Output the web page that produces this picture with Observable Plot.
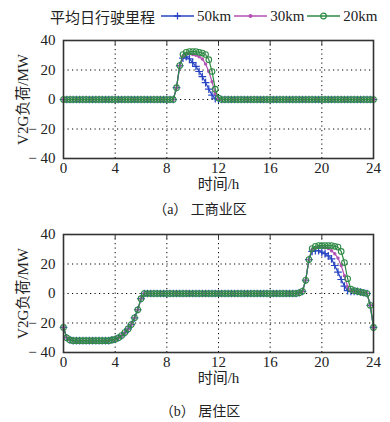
<!DOCTYPE html>
<html><head><meta charset="utf-8">
<script src="https://cdn.jsdelivr.net/npm/d3@7"></script>
<script src="https://cdn.jsdelivr.net/npm/@observablehq/plot@0.6"></script>
<style>
body{margin:0;background:#fff;}
#wrap{position:relative;width:390px;height:422px;overflow:hidden;font-family:"Liberation Serif","Noto Sans CJK SC",serif;color:#222;}
.abs{position:absolute;}
.cap{position:absolute;left:0;width:400px;text-align:center;font-size:14px;}
#legend{position:absolute;left:50px;top:4px;height:24px;display:flex;align-items:center;font-size:15px;white-space:nowrap;}
#legend .ttl{font-family:"Noto Sans CJK SC",sans-serif;margin-right:6px;}
#legend svg{display:block;}
svg text{font-family:"Liberation Serif","Noto Sans CJK SC",serif;}
</style></head><body>
<div id="wrap">
  <div id="legend"></div>
  <div id="p1" class="abs" style="left:0;top:28px"></div>
  <div class="cap" style="top:198px">（a） 工商业区</div>
  <div id="p2" class="abs" style="left:0;top:222px"></div>
  <div class="cap" style="top:400px">（b） 居住区</div>
</div>
<script>
const hours = [0,0.25,0.5,0.75,1,1.25,1.5,1.75,2,2.25,2.5,2.75,3,3.25,3.5,3.75,4,4.25,4.5,4.75,5,5.25,5.5,5.75,6,6.25,6.5,6.75,7,7.25,7.5,7.75,8,8.25,8.5,8.75,9,9.25,9.5,9.75,10,10.25,10.5,10.75,11,11.25,11.5,11.75,12,12.25,12.5,12.75,13,13.25,13.5,13.75,14,14.25,14.5,14.75,15,15.25,15.5,15.75,16,16.25,16.5,16.75,17,17.25,17.5,17.75,18,18.25,18.5,18.75,19,19.25,19.5,19.75,20,20.25,20.5,20.75,21,21.25,21.5,21.75,22,22.25,22.5,22.75,23,23.25,23.5,23.75,24];
const seriesNames = ["50km","30km","20km"];
const seriesColors = ["#2a45c4","#b352b3","#2f8a45"];
const xTicks = [0,4,8,12,16,20,24];
const yTicks = [-40,-20,0,20,40];

// 工商业区 (commercial)
const com50 = [0,0,0,0,0,0,0,0,0,0,0,0,0,0,0,0,0,0,0,0,0,0,0,0,0,0,0,0,0,0,0,0,0,0,0,8,23,28,29,27.5,25,22.5,19,15.5,11.5,7,3,0.5,0,0,0,0,0,0,0,0,0,0,0,0,0,0,0,0,0,0,0,0,0,0,0,0,0,0,0,0,0,0,0,0,0,0,0,0,0,0,0,0,0,0,0,0,0,0,0,0,0];
const com30 = [0,0,0,0,0,0,0,0,0,0,0,0,0,0,0,0,0,0,0,0,0,0,0,0,0,0,0,0,0,0,0,0,0,0,0,8,23,29.5,31,31,30.5,30,29,27.5,24,19,12,4,0.5,0,0,0,0,0,0,0,0,0,0,0,0,0,0,0,0,0,0,0,0,0,0,0,0,0,0,0,0,0,0,0,0,0,0,0,0,0,0,0,0,0,0,0,0,0,0,0,0];
const com20 = [0,0,0,0,0,0,0,0,0,0,0,0,0,0,0,0,0,0,0,0,0,0,0,0,0,0,0,0,0,0,0,0,0,0,0,8,23,30.5,32,32.5,32.5,32.5,32,31.5,30.5,27,19,7,1,0,0,0,0,0,0,0,0,0,0,0,0,0,0,0,0,0,0,0,0,0,0,0,0,0,0,0,0,0,0,0,0,0,0,0,0,0,0,0,0,0,0,0,0,0,0,0,0];

// 居住区 (residential)
const res50 = [-23,-30,-31.5,-32,-32,-32,-32,-32,-32,-32,-32,-32,-32,-32,-32,-31.5,-31,-30,-28.5,-26.5,-24,-21,-16.5,-11,-3.5,0,0,0,0,0,0,0,0,0,0,0,0,0,0,0,0,0,0,0,0,0,0,0,0,0,0,0,0,0,0,0,0,0,0,0,0,0,0,0,0,0,0,0,0,0,0,0,0,0.5,1.5,9,23,28.5,29,29,28,27,25.5,23.5,19,14.5,9.5,5,2,1.5,1.5,1.5,1,0.5,0,-8,-23];
const res30 = [-23,-30,-31.5,-32,-32,-32,-32,-32,-32,-32,-32,-32,-32,-32,-32,-31.5,-31,-30,-28.5,-26.5,-24,-21,-16.5,-11,-3.5,0,0,0,0,0,0,0,0,0,0,0,0,0,0,0,0,0,0,0,0,0,0,0,0,0,0,0,0,0,0,0,0,0,0,0,0,0,0,0,0,0,0,0,0,0,0,0,0,0.5,1.5,9,23,30,31,31.5,31.5,31,30.5,29,27,24,19,12,4.5,2,1.5,1.5,1,0.5,0,-8,-23];
const res20 = [-23,-30,-31.5,-32,-32,-32,-32,-32,-32,-32,-32,-32,-32,-32,-32,-31.5,-31,-30,-28.5,-26.5,-24,-21,-16.5,-11,-3.5,0,0,0,0,0,0,0,0,0,0,0,0,0,0,0,0,0,0,0,0,0,0,0,0,0,0,0,0,0,0,0,0,0,0,0,0,0,0,0,0,0,0,0,0,0,0,0,0,0.5,1.5,9,23,30.5,32,32.5,32.5,32.5,32.5,32.5,32,31.5,28.5,21,10,3,2,1.5,1,0.5,0,-8,-23];

function rows(arr){ return hours.map((t,i)=>({t, v: arr[i]})); }

const fmtY = d => d < 0 ? "\u2212 " + (-d) : String(d);
const FF = '"Liberation Serif","Noto Sans CJK SC",serif';

function panel(sets){
  const [a,b,c] = sets.map(rows);
  return Plot.plot({
    width: 390, height: 166,
    marginTop: 12, marginBottom: 36, marginLeft: 63, marginRight: 17,
    style: {fontFamily: FF, fontSize: "15px", color: "#222", background: "transparent", overflow: "visible"},
    x: {domain: [0,24]},
    y: {domain: [-40,40]},
    marks: [
      Plot.gridX(xTicks.slice(1,-1), {stroke:"#000", strokeOpacity:1, strokeDasharray:"1.2,3.3", strokeWidth:1}),
      Plot.gridY(yTicks.slice(1,-1), {stroke:"#000", strokeOpacity:1, strokeDasharray:"1.2,3.3", strokeWidth:1}),
      Plot.axisX(xTicks, {tickSize:0, tickPadding:4, label:"时间/h", labelAnchor:"center", labelArrow:"none", labelOffset:30, fontSize:15, fontFamily: FF}),
      Plot.axisY(yTicks, {tickSize:0, tickPadding:8, tickFormat: fmtY, label:"V2G负荷/MW", labelAnchor:"center", labelArrow:"none", labelOffset:46, fontSize:15, fontFamily: FF}),
      Plot.axisX(xTicks.slice(1,-1), {anchor:"top", tickSize:-4, tickFormat: () => "", label: null, stroke:"#333"}),
      Plot.line(a, {x:"t", y:"v", stroke: seriesColors[0], strokeWidth:1.2}),
      Plot.dot(a, {x:"t", y:"v", symbol:"plus", r:2.6, stroke: seriesColors[0], strokeWidth:1.2}),
      Plot.line(b, {x:"t", y:"v", stroke: seriesColors[1], strokeWidth:1.2}),
      Plot.dot(b, {x:"t", y:"v", symbol:"circle", r:1.7, fill: seriesColors[1], stroke:"none"}),
      Plot.line(c, {x:"t", y:"v", stroke: seriesColors[2], strokeWidth:1.2}),
      Plot.dot(c, {x:"t", y:"v", symbol:"circle", r:2.8, fill:"none", stroke: seriesColors[2], strokeWidth:1.1}),
      Plot.frame({stroke:"#333", strokeWidth:1.6})
    ]
  });
}

document.getElementById("p1").appendChild(panel([com50, com30, com20]));
document.getElementById("p2").appendChild(panel([res50, res30, res20]));

// legend
const lg = document.getElementById("legend");
const ttl = document.createElement("span"); ttl.className="ttl"; ttl.textContent = "平均日行驶里程"; lg.appendChild(ttl);
const syms = ["plus","dot","circle"];
seriesNames.forEach((name,i)=>{
  const ns="http://www.w3.org/2000/svg";
  const s = document.createElementNS(ns,"svg"); s.setAttribute("width",33); s.setAttribute("height",12);
  const l = document.createElementNS(ns,"line"); l.setAttribute("x1",0); l.setAttribute("x2",33); l.setAttribute("y1",6); l.setAttribute("y2",6); l.setAttribute("stroke",seriesColors[i]); l.setAttribute("stroke-width",1.3); s.appendChild(l);
  if(syms[i]==="plus"){
    const p=document.createElementNS(ns,"path"); p.setAttribute("d","M16.5,2.5V9.5M13,6H20"); p.setAttribute("stroke",seriesColors[i]); p.setAttribute("stroke-width",1.3); s.appendChild(p);
  } else if(syms[i]==="dot"){
    const c=document.createElementNS(ns,"circle"); c.setAttribute("cx",16.5); c.setAttribute("cy",6); c.setAttribute("r",2); c.setAttribute("fill",seriesColors[i]); s.appendChild(c);
  } else {
    const c=document.createElementNS(ns,"circle"); c.setAttribute("cx",16.5); c.setAttribute("cy",6); c.setAttribute("r",2.8); c.setAttribute("fill","none"); c.setAttribute("stroke",seriesColors[i]); c.setAttribute("stroke-width",1.2); s.appendChild(c);
  }
  lg.appendChild(s);
  const t=document.createElement("span"); t.textContent=name; t.style.margin = "0 3px 0 3px"; lg.appendChild(t);
});
</script>
</body></html>
